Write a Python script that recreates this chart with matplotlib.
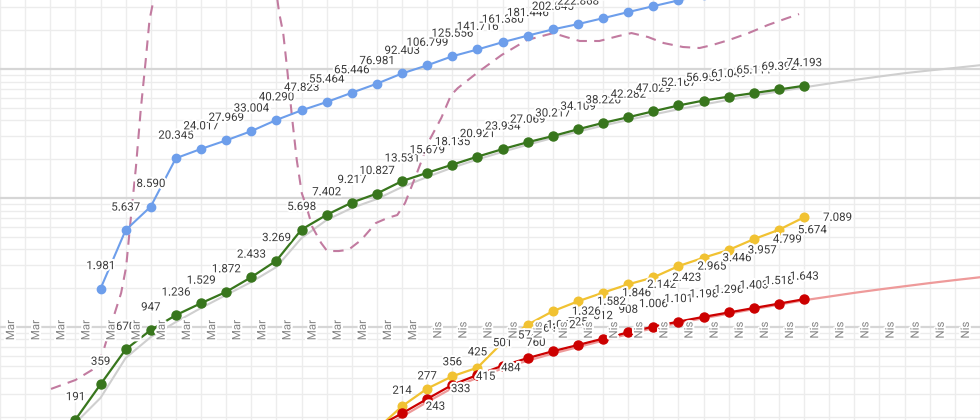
import matplotlib
matplotlib.use("Agg")
import matplotlib.pyplot as plt
import matplotlib.patheffects as pe
from matplotlib.ticker import LogLocator, NullFormatter
import numpy as np
import pandas as pd

# day 0 = 18 Mart 2020
start = pd.Timestamp("2020-03-18")
tick_dates = pd.date_range("2020-03-15", "2020-04-22")
month_names = {3: "Mar", 4: "Nis"}

# vaka (yesil)
cases_days = list(range(0, 30))
cases = [191, 359, 670, 947, 1236, 1529, 1872, 2433, 3269, 5698,
         7402, 9217, 10827, 13531, 15679, 18135, 20921, 23934, 27069, 30217,
         34109, 38226, 42282, 47029, 52167, 56956, 61049, 65111, 69392, 74193]

# test (mavi)
tests_days = list(range(1, 26))
tests = [1981, 5637, 8590, 20345, 24017, 27969, 33004, 40290, 47823, 55464,
         65446, 76981, 92403, 106799, 125556, 141716, 161380, 181446, 202845, 222868,
         247768, 276338, 307210, 340380, 376100]

# iyilesen (sari)
recov_days = list(range(11, 30))
recovered = [105, 162, 243, 333, 415, 484, 760, 1042, 1326, 1582,
             1846, 2142, 2423, 2965, 3446, 3957, 4799, 5674, 7089]

# vefat (kirmizi)
death_days = list(range(11, 30))
deaths = [135, 168, 214, 277, 356, 425, 501, 574, 649, 725,
          812, 908, 1006, 1101, 1198, 1296, 1403, 1518, 1643]

# vaka trend (gri)
case_trend_days = list(range(0, 37))
case_trend = [180, 282, 575, 836, 1093, 1404, 1771, 2233, 2917, 4897,
              6752, 8365, 9823, 12170, 14550, 17200, 19900, 22800, 25900, 29200,
              32700, 36400, 40300, 44400, 48700, 53100, 57600, 62300, 67100, 72100,
              77200, 82300, 87500, 92800, 97500, 102000, 107000]

# vefat trend (acik kirmizi)
death_trend_days = list(range(12, 37))
death_trend = [158, 202, 262, 336, 404, 477, 548, 622, 698, 785,
               880, 978, 1073, 1170, 1268, 1375, 1490, 1612, 1722, 1840,
               1955, 2070, 2190, 2310, 2430]

# kesikli pembe egri
pink_days = [-0.97, 0.0, 0.66, 1.09, 1.48, 1.82, 2.02, 2.21, 2.41, 2.60,
             2.80, 2.95, 3.11, 3.26, 4.5, 6.5, 7.88, 8.04, 8.11, 8.27,
             8.42, 8.62, 8.81, 9.01, 9.20, 9.43, 9.78, 10.02, 10.48, 10.87,
             11.37, 11.96, 12.42, 12.81, 13.12, 13.59, 14.09, 14.56, 14.95, 15.22,
             16.03, 16.96, 17.97, 19.02, 19.53, 20.07, 20.85, 21.62, 22.13, 22.79,
             23.41, 24.18, 24.84, 25.35, 26.01, 26.79, 27.56, 28.34, 28.80]
pink_vals = [331, 388, 464, 629, 1133, 1834, 2918, 7125, 17390, 48100,
             117500, 240000, 343000, 425000, 2000000, 2000000, 425000, 343000, 272000, 190000,
             103600, 42450, 19700, 10900, 8515, 5960, 4480, 3880, 3880, 3970,
             4720, 6400, 7000, 7380, 9150, 15600, 28100, 41700, 62800, 71200,
             94800, 128300, 167800, 190000, 177000, 164900, 164900, 180300, 190000, 177000,
             159000, 148100, 145500, 153500, 167800, 190000, 219400, 248500, 266700]


def fmt(v):
    return f"{v:,}".replace(",", ".")


plt.rcParams['font.family'] = ['Roboto', 'DejaVu Sans']

fig = plt.figure(figsize=(9.8, 4.2), dpi=100)
ax = fig.add_axes([0, 0, 1, 1])
ax.set_yscale('log')
ax.set_xlim(-2.717, 35.33)
ax.set_ylim(190.1, 342800)
for s in ax.spines.values():
    s.set_visible(False)

ax.set_xticks(range(-3, 37))
ax.yaxis.set_major_locator(LogLocator(base=10))
ax.yaxis.set_minor_locator(LogLocator(base=10, subs=np.arange(2, 10)))
ax.yaxis.set_minor_formatter(NullFormatter())
ax.tick_params(which='both', length=0, labelleft=False, labelbottom=False)
ax.grid(axis='x', color='#ededed', lw=1.0, zorder=0)
ax.grid(axis='y', which='major', color='#d6d6d6', lw=1.6, zorder=0)
ax.grid(axis='y', which='minor', color='#ececec', lw=1.0, zorder=0)
ax.set_axisbelow(True)

halo = [pe.withStroke(linewidth=3, foreground='white')]
lbl_kw = dict(fontsize=8.3, color='#3a3a3a', ha='center', va='center',
              path_effects=halo, zorder=6)

# trend lines
ax.plot(case_trend_days, case_trend, color='#cfcfcf', lw=1.5, zorder=2)
ax.plot(death_trend_days, death_trend, color='#ee9a9a', lw=1.6, zorder=2)

# pink dashed
ax.plot(pink_days, pink_vals, color='#c27ba0', lw=1.5, dashes=(5, 3.5), zorder=2.5)

# main series
ax.plot(tests_days, tests, color='#6d9eeb', lw=1.5, marker='o', ms=6, zorder=4)
ax.plot(cases_days, cases, color='#38761d', lw=1.6, marker='o', ms=6.5, zorder=4)
ax.plot(recov_days, recovered, color='#f1c232', lw=1.6, marker='o', ms=6.2, zorder=4)
ax.plot(death_days, deaths, color='#cc0000', lw=1.6, marker='o', ms=6.5, zorder=4)

up = 16.6
for d, v in zip(tests_days, tests):
    ax.annotate(fmt(v), (d, v), xytext=(0, up), textcoords='offset points', **lbl_kw)
for d, v in zip(cases_days, cases):
    ax.annotate(fmt(v), (d, v), xytext=(0, up), textcoords='offset points', **lbl_kw)
for d, v in zip(death_days, deaths):
    ax.annotate(fmt(v), (d, v), xytext=(0, up), textcoords='offset points', **lbl_kw)
for d, v in zip(recov_days, recovered):
    ax.annotate(fmt(v), (d, v), xytext=(24, 0), textcoords='offset points', **lbl_kw)

# tarih etiketleri
for t in tick_dates:
    d = (t - start).days
    ax.text(d + 0.42, 0.214, month_names[t.month], transform=ax.get_xaxis_transform(),
            rotation=90, fontsize=8.3, color='#858585', ha='center', va='center',
            path_effects=halo, zorder=7)

fig.savefig("out.png", dpi=100)
